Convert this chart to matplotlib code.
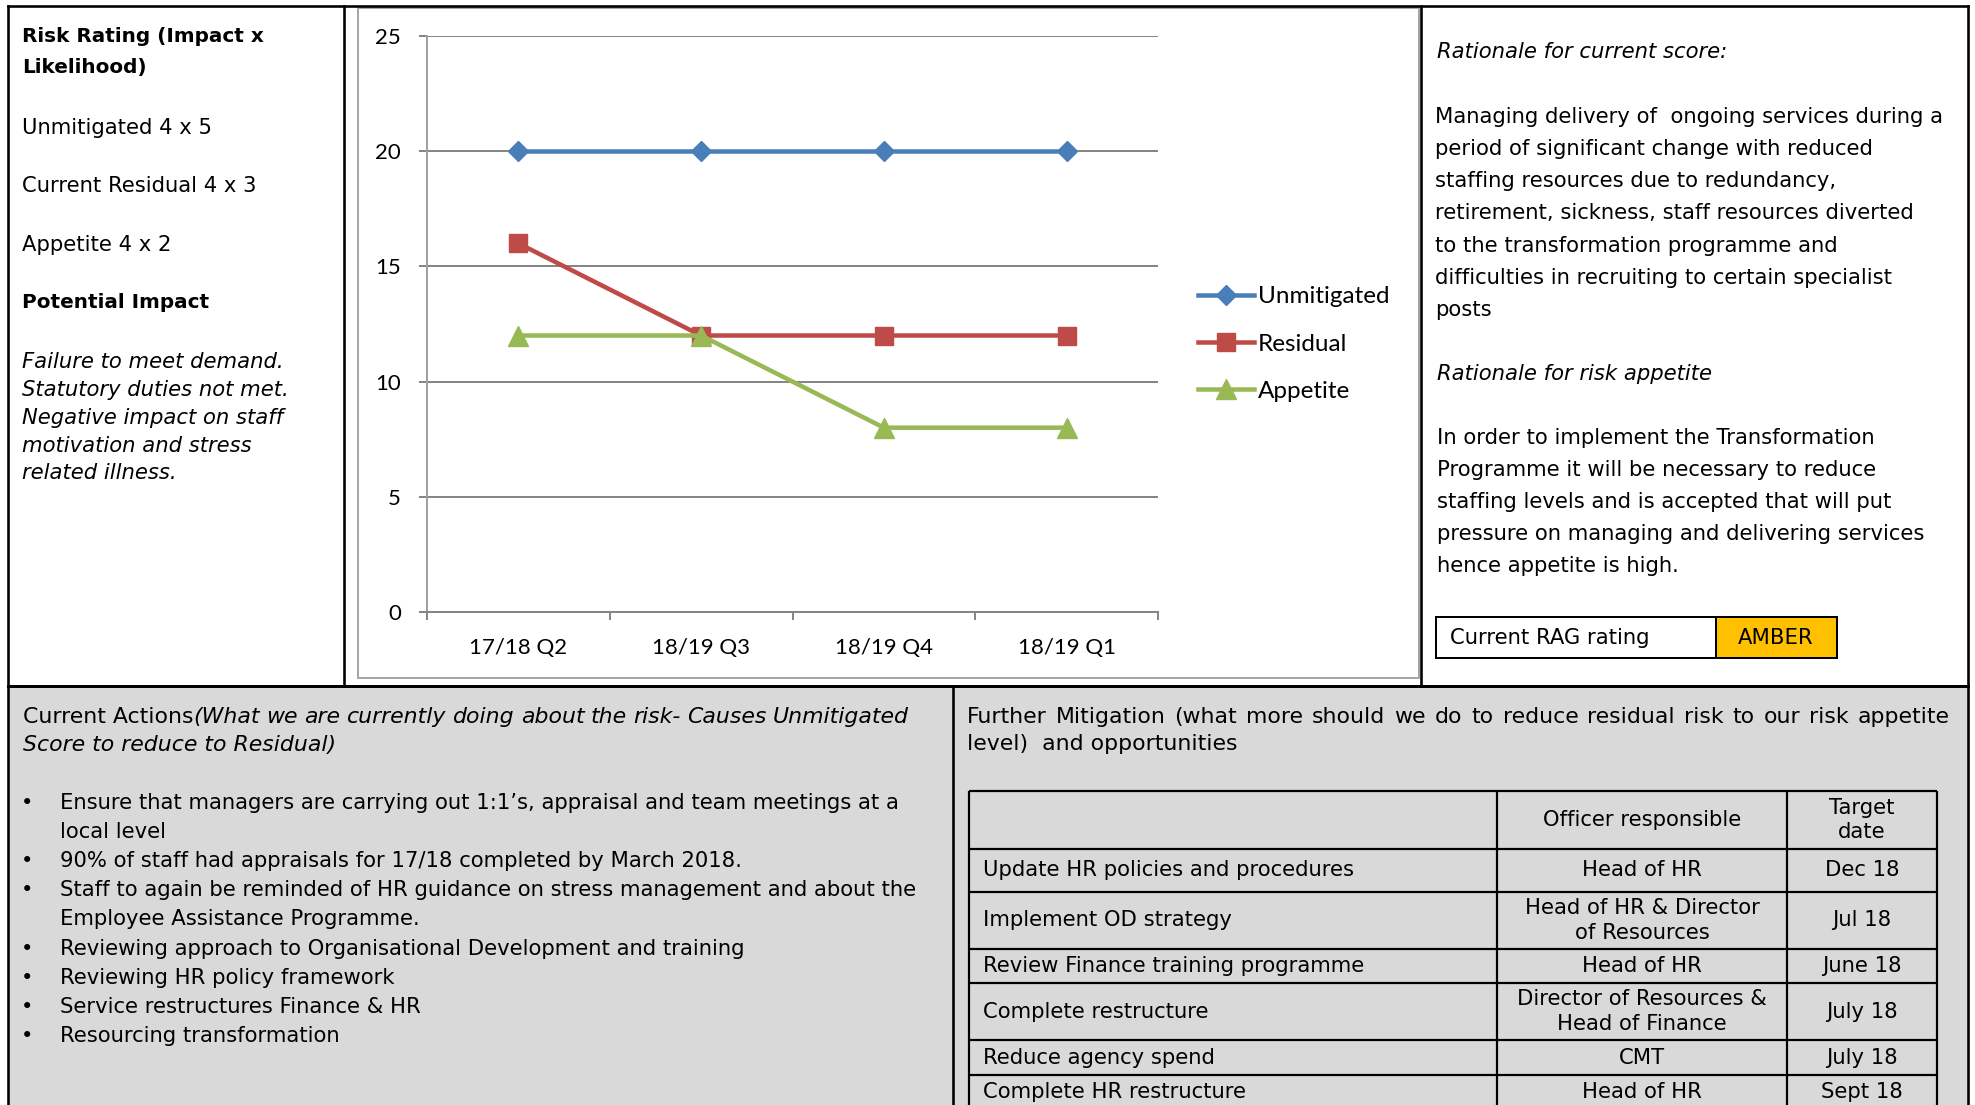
import numpy as np
import matplotlib
matplotlib.use("Agg")
import matplotlib.pyplot as plt
from matplotlib.patches import Rectangle

W, H = 1975, 1105

# chart data
categories = ["17/18 Q2", "18/19 Q3", "18/19 Q4", "18/19 Q1"]
unmitigated = [20, 20, 20, 20]
residual = [16, 12, 12, 12]
appetite = [12, 12, 8, 8]
y_ticks = [0, 5, 10, 15, 20, 25]

# text blocks
left_lines = [
    ("Risk Rating (Impact x", "bold", "normal"),
    ("Likelihood)", "bold", "normal"),
    ("Unmitigated 4 x 5", "normal", "normal"),
    ("Current Residual 4 x 3", "normal", "normal"),
    ("Appetite 4 x 2", "normal", "normal"),
    ("Potential Impact", "bold", "normal"),
    ("Failure to meet demand.", "normal", "italic"),
    ("Statutory duties not met.", "normal", "italic"),
    ("Negative impact on staff", "normal", "italic"),
    ("motivation and stress", "normal", "italic"),
    ("related illness.", "normal", "italic"),
]
left_y = [36, 68, 128, 186, 245, 303, 362, 390, 418, 446, 473]

rationale_score = ["Managing delivery of  ongoing services during a",
                   "period of significant change with reduced",
                   "staffing resources due to redundancy,",
                   "retirement, sickness, staff resources diverted",
                   "to the transformation programme and",
                   "difficulties in recruiting to certain specialist",
                   "posts"]
rationale_appetite = ["In order to implement the Transformation",
                      "Programme it will be necessary to reduce",
                      "staffing levels and is accepted that will put",
                      "pressure on managing and delivering services",
                      "hence appetite is high."]

bullets = [["Ensure that managers are carrying out 1:1\u2019s, appraisal and team meetings at a",
            "local level"],
           ["90% of staff had appraisals for 17/18 completed by March 2018."],
           ["Staff to again be reminded of HR guidance on stress management and about the",
            "Employee Assistance Programme."],
           ["Reviewing approach to Organisational Development and training"],
           ["Reviewing HR policy framework"],
           ["Service restructures Finance & HR"],
           ["Resourcing transformation"]]

tbl_actions = ["Update HR policies and procedures", "Implement OD strategy",
               "Review Finance training programme", "Complete restructure",
               "Reduce agency spend", "Complete HR restructure"]
tbl_officers = ["Head of HR", "Head of HR & Director\nof Resources", "Head of HR",
                "Director of Resources &\nHead of Finance", "CMT", "Head of HR"]
tbl_dates = ["Dec 18", "Jul 18", "June 18", "July 18", "July 18", "Sept 18"]

FS = 15.2
FSB = 14.4
FSH = 15.8
px = 0.72  # points per pixel at dpi 100

fig = plt.figure(figsize=(W / 100, H / 100), dpi=100)
fig.patch.set_facecolor("white")

ov = fig.add_axes([0, 0, 1, 1], zorder=0)
ov.set_xlim(0, W)
ov.set_ylim(H, 0)
ov.axis("off")
fig.canvas.draw()
rend = fig.canvas.get_renderer()


def width_of(s, **kw):
    t = ov.text(0, 0, s, **kw)
    bb = t.get_window_extent(renderer=rend)
    t.remove()
    return bb.width


def justify(x0, x1, y, s, **kw):
    # spread words so the line fills x0..x1 (like Word's justified text)
    words = s.split()
    ws = [width_of(w, **kw) for w in words]
    gap = (x1 - x0 - sum(ws)) / (len(words) - 1)
    x = x0
    for w, wd in zip(words, ws):
        ov.text(x, y, w, va="center", **kw)
        x += wd + gap


# bottom grey panel
ov.add_patch(Rectangle((8, 686), 1960, H - 686, facecolor="#d9d9d9", edgecolor="none"))

# chart frame
ov.add_patch(Rectangle((358, 8), 1419 - 358, 678 - 8, facecolor="white",
                       edgecolor="#a6a6a6", lw=2 * px))

# document borders
blw = 2.6 * px
ov.plot([8, 1968], [6, 6], color="black", lw=blw)
ov.plot([8, 8], [6, H], color="black", lw=blw)
ov.plot([1968, 1968], [6, H], color="black", lw=blw)
ov.plot([344, 344], [6, 686], color="black", lw=blw)
ov.plot([1421, 1421], [6, 686], color="black", lw=blw)
ov.plot([8, 1968], [686, 686], color="black", lw=3 * px)
ov.plot([953, 953], [686, H], color="black", lw=blw)

# left column
for (t, w, s), y in zip(left_lines, left_y):
    ov.text(22, y, t, fontsize=FSB if w == "bold" else FS, fontweight=w, fontstyle=s,
            va="center", ha="left")

# right column
ov.text(1437, 52, "Rationale for current score:", fontsize=FS, fontstyle="italic", va="center")
for i, t in enumerate(rationale_score):
    ov.text(1435, 116.7 + i * 32.2, t, fontsize=FS, va="center")
ov.text(1437, 373.6, "Rationale for risk appetite", fontsize=FS, fontstyle="italic", va="center")
for i, t in enumerate(rationale_appetite):
    ov.text(1437, 438 + i * 32, t, fontsize=FS, va="center")

# RAG box
ov.add_patch(Rectangle((1436, 617), 1716 - 1436, 41, facecolor="white", edgecolor="black", lw=2 * px))
ov.add_patch(Rectangle((1716, 617), 1837 - 1716, 41, facecolor="#ffc000", edgecolor="black", lw=2 * px))
ov.text(1450, 637.5, "Current RAG rating", fontsize=FS, va="center")
ov.text(1776, 637.5, "AMBER", fontsize=FS, va="center", ha="center")

# current actions
ov.text(23, 717, "Current Actions", fontsize=FSH, va="center")
x_it = 23 + width_of("Current Actions", fontsize=FSH)
justify(x_it, 909, 717, "(What we are currently doing about the risk- Causes Unmitigated",
        fontsize=FSH, fontstyle="italic")
ov.text(23, 745, "Score to reduce to Residual)", fontsize=FSH, fontstyle="italic", va="center")
y = 802.7
for item in bullets:
    ov.text(27, y, "\u2022", fontsize=FS, va="center", ha="center")
    for ln in item:
        ov.text(60, y, ln, fontsize=FS, va="center")
        y += 29
    y += 0.3

# further mitigation
justify(967, 1950, 717,
        "Further Mitigation (what more should we do to reduce residual risk to our risk appetite",
        fontsize=FSH)
ov.text(967, 744, "level)  and opportunities", fontsize=FSH, va="center")

col_x = [969, 1497, 1787, 1937]
row_y = [791, 849, 892, 949, 983, 1040, 1075, 1110]
tlw = 2.2 * px
for x in col_x:
    ov.plot([x, x], [row_y[0], H + 5], color="black", lw=tlw, solid_capstyle="butt")
for yy in row_y[:-1]:
    ov.plot([col_x[0], col_x[-1]], [yy, yy], color="black", lw=tlw, solid_capstyle="butt")
ov.text((col_x[1] + col_x[2]) / 2, (row_y[0] + row_y[1]) / 2, "Officer responsible",
        fontsize=FS, ha="center", va="center")
ov.text((col_x[2] + col_x[3]) / 2, (row_y[0] + row_y[1]) / 2, "Target\ndate",
        fontsize=FS, ha="center", va="center", linespacing=1.3)
for i in range(len(tbl_actions)):
    yc = (row_y[i + 1] + row_y[i + 2]) / 2
    ov.text(983, yc, tbl_actions[i], fontsize=FS, va="center")
    ov.text((col_x[1] + col_x[2]) / 2, yc, tbl_officers[i], fontsize=FS, ha="center",
            va="center", linespacing=1.35)
    ov.text((col_x[2] + col_x[3]) / 2, yc, tbl_dates[i], fontsize=FS, ha="center", va="center")

# line chart
ax = fig.add_axes([427 / W, 1 - 612 / H, 731 / W, 576 / H], zorder=2)
ax.patch.set_alpha(0)
xs = np.arange(len(categories)) + 0.5
ax.plot(xs, unmitigated, color="#4a7ebb", lw=4.5 * px, marker="D", ms=10.5, label="Unmitigated",
        zorder=3)
ax.plot(xs, residual, color="#be4b48", lw=4.5 * px, marker="s", ms=13, label="Residual", zorder=4)
ax.plot(xs, appetite, color="#98b954", lw=4.5 * px, marker="^", ms=14, label="Appetite", zorder=5)
ax.set_xlim(0, len(categories))
ax.set_ylim(0, 25)
ax.set_yticks(y_ticks)
ax.set_yticklabels([str(v) for v in y_ticks])
ax.yaxis.grid(True, color="#868686", lw=2 * px)
ax.set_axisbelow(True)
gc = "#868686"
for s in ["top", "right"]:
    ax.spines[s].set_visible(False)
ax.spines["left"].set_color("#a0a0a0")
ax.spines["left"].set_linewidth(2 * px)
ax.spines["bottom"].set_color(gc)
ax.spines["bottom"].set_linewidth(2 * px)
ax.set_xticks(np.arange(len(categories) + 1))
ax.set_xticklabels([])
ax.set_xticks(xs, minor=True)
ax.set_xticklabels(categories, minor=True)
ax.tick_params(axis="x", which="major", direction="out", length=8 * px, width=2 * px, color=gc)
ax.tick_params(axis="x", which="minor", length=0, pad=19, labelsize=16)
ax.tick_params(axis="y", direction="out", length=8 * px, width=2 * px, color=gc, pad=13, labelsize=16)
for lab in ax.get_xticklabels(minor=True) + ax.get_yticklabels():
    lab.set_family("Lato")

leg = ax.legend(loc="center left", bbox_to_anchor=(1198, 344), bbox_transform=ov.transData,
                frameon=False, borderpad=0, borderaxespad=0, handlelength=2.3,
                handletextpad=0.15, labelspacing=1.07, prop={"family": "Lato", "size": 17.5})

fig.savefig("out.png", dpi=100)
